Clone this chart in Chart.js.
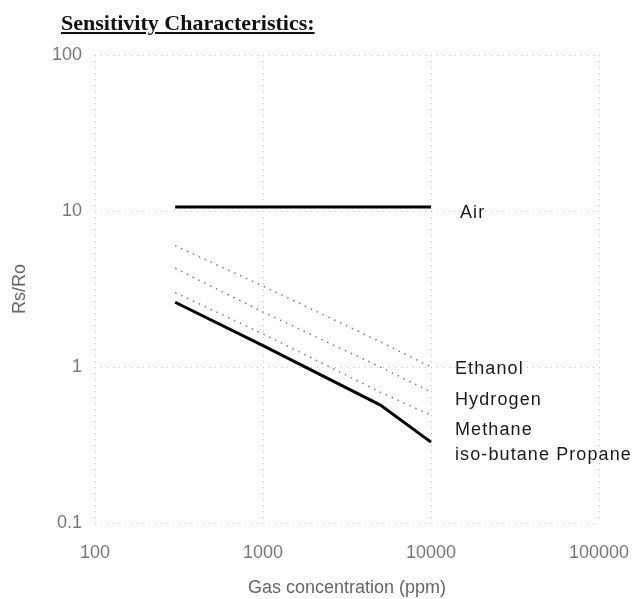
<!DOCTYPE html>
<html>
<head>
<meta charset="utf-8">
<script src="https://cdn.jsdelivr.net/npm/chart.js@4"></script>
<style>
    html, body { margin: 0; padding: 0; background: #fff; }
    #wrap { position: relative; width: 642px; height: 599px; }
    #title {
        position: absolute; left: 61px; top: 10px;
        font: bold 22px 'Liberation Serif', 'Times New Roman', serif;
        text-decoration: underline; color: #111; white-space: nowrap;
    }
</style>
</head>
<body>
<div id="wrap">
    <canvas id="myChart" width="642" height="599"></canvas>
    <div id="title">Sensitivity Characteristics:</div>
</div>
<script>
'use strict';

// values (ppm -> Rs/Ro)
const seriesNames = ['Air', 'Ethanol', 'Hydrogen', 'Methane', 'iso-butane Propane'];
const airPpm = [300, 10000];
const airRs = [10.6, 10.6];
const ethanolPpm = [300, 1000, 5000, 10000];
const ethanolRs = [6.0, 3.3, 1.45, 1.0];
const hydrogenPpm = [300, 1000, 5000, 10000];
const hydrogenRs = [4.3, 2.25, 1.0, 0.69];
const methanePpm = [300, 1000, 5000, 10000];
const methaneRs = [3.0, 1.63, 0.69, 0.49];
const butanePpm = [300, 1000, 5000, 10000];
const butaneRs = [2.6, 1.37, 0.57, 0.33];

const xTicks = [100, 1000, 10000, 100000];
const yTicks = [0.1, 1, 10, 100];

const pairs = (xs, ys) => xs.map((x, i) => ({ x: x, y: ys[i] }));

// label offsets from the end of each line [dx, dy]
const labelShift = [[29, 6], [24, 2], [24, 8], [24, 15], [24, 13]];

const endLabels = {
    id: 'endLabels',
    afterDatasetsDraw(chart) {
        const ctx = chart.ctx;
        ctx.save();
        ctx.font = '18px "Liberation Sans", Arial, sans-serif';
        ctx.letterSpacing = '1.1px';
        ctx.fillStyle = '#1a1a1a';
        ctx.textBaseline = 'middle';
        chart.data.datasets.forEach((ds, i) => {
            const pts = chart.getDatasetMeta(i).data;
            const last = pts[pts.length - 1];
            ctx.fillText(ds.label, last.x + labelShift[i][0], last.y + labelShift[i][1]);
        });
        ctx.restore();
    }
};

const solid = (label, data) => ({
    label: label,
    data: data,
    borderColor: '#000',
    borderWidth: 3,
    pointRadius: 0,
    fill: false
});
const dotted = (label, data) => ({
    label: label,
    data: data,
    borderColor: '#7a7a7a',
    borderWidth: 1.5,
    borderDash: [1.5, 5],
    pointRadius: 0,
    fill: false
});

const tickFont = { family: '"Liberation Sans", Arial, sans-serif', size: 18 };

const ctx = document.getElementById('myChart').getContext('2d');
new Chart(ctx, {
    type: 'line',
    data: {
        datasets: [
            solid(seriesNames[0], pairs(airPpm, airRs)),
            dotted(seriesNames[1], pairs(ethanolPpm, ethanolRs)),
            dotted(seriesNames[2], pairs(hydrogenPpm, hydrogenRs)),
            dotted(seriesNames[3], pairs(methanePpm, methaneRs)),
            solid(seriesNames[4], pairs(butanePpm, butaneRs))
        ]
    },
    options: {
        responsive: false,
        animation: false,
        layout: { padding: { left: 0, right: 43, top: 55, bottom: 0 } },
        plugins: { legend: { display: false }, tooltip: { enabled: false } },
        scales: {
            x: {
                type: 'logarithmic',
                min: 100,
                max: 100000,
                afterBuildTicks: s => { s.ticks = xTicks.map(v => ({ value: v })); },
                afterFit: s => {
                    s.height = 76;
                    s.paddingLeft = 0;
                    s.paddingRight = 0;
                },
                ticks: {
                    padding: 19, color: '#777', font: tickFont,
                    autoSkip: false, maxRotation: 0,
                    callback: v => String(v)
                },
                grid: { color: '#c4c4c4', drawTicks: false, lineWidth: 1 },
                border: { display: false, dash: [1, 5] },
                title: {
                    display: true, text: 'Gas concentration (ppm)', color: '#666',
                    font: tickFont, padding: { top: 0, bottom: 0 }
                }
            },
            y: {
                type: 'logarithmic',
                min: 0.1,
                max: 100,
                afterBuildTicks: s => { s.ticks = yTicks.map(v => ({ value: v })); },
                afterFit: s => {
                    s.width = 95;
                    s.paddingTop = 0;
                    s.paddingBottom = 0;
                },
                ticks: {
                    padding: 13, color: '#777', font: tickFont,
                    autoSkip: false,
                    callback: v => String(v)
                },
                grid: { color: '#c4c4c4', drawTicks: false, lineWidth: 1 },
                border: { display: false, dash: [1, 5] },
                title: {
                    display: true, text: 'Rs/Ro', color: '#666',
                    font: tickFont, padding: { top: 9, bottom: 0 }
                }
            }
        }
    },
    plugins: [endLabels]
});
</script>
</body>
</html>
